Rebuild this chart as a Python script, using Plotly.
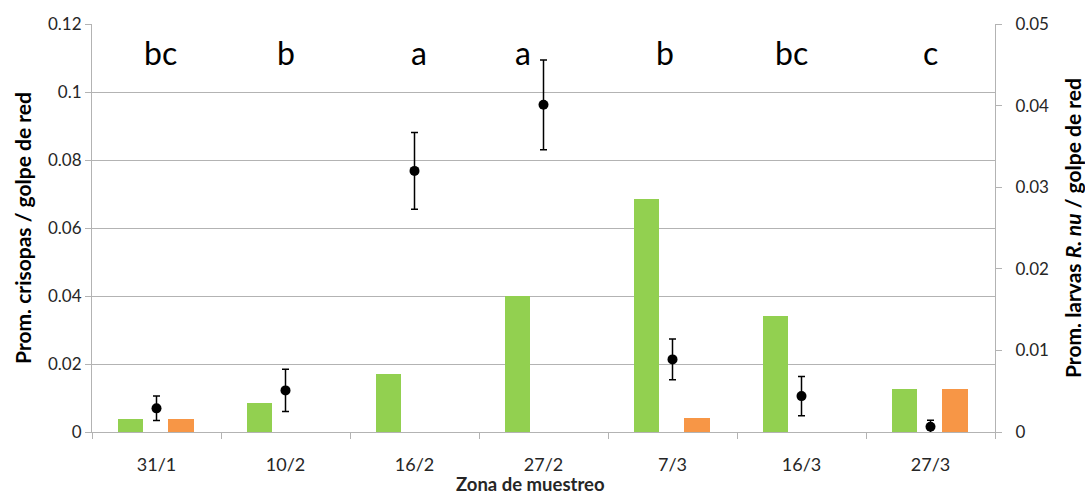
import plotly.graph_objects as go

fechas = ["31/1", "10/2", "16/2", "27/2", "7/3", "16/3", "27/3"]
crisopas_verde = [0.0039, 0.0084, 0.0171, 0.0399, 0.0685, 0.0341, 0.0126]
crisopas_naranja = [0.0039, 0, 0, 0, 0.0040, 0, 0.0126]
larvas_media = [0.0029, 0.0051, 0.0320, 0.0401, 0.0089, 0.0044, 0.00065]
larvas_error = [0.0015, 0.0026, 0.0047, 0.0055, 0.0025, 0.0024, 0.0008]
letras = ["bc", "b", "a", "a", "b", "bc", "c"]

# style / placement
letra_shift = [4, 0, 4, -21, -8, -10, 0]
FONT = "Lato"
GREEN = "#92D050"
ORANGE = "#F79646"
GRID = "#b3b3b3"
TXT = "#262626"

fig = go.Figure()
fig.add_trace(go.Bar(x=fechas, y=crisopas_verde, marker=dict(color=GREEN, line=dict(width=0)),
                     width=0.195, offset=-0.298, showlegend=False))
fig.add_trace(go.Bar(x=fechas, y=crisopas_naranja, marker=dict(color=ORANGE, line=dict(width=0)),
                     width=0.195, offset=0.092, showlegend=False))
fig.add_trace(go.Scatter(x=fechas, y=larvas_media, yaxis="y2", mode="markers",
                         marker=dict(color="black", size=10),
                         error_y=dict(type="data", array=larvas_error, color="black",
                                      thickness=1.5, width=3.5),
                         showlegend=False))

for f, l, s in zip(fechas, letras, letra_shift):
    fig.add_annotation(x=f, y=0.1115, xref="x", yref="y", text=l, showarrow=False,
                       xshift=s, font=dict(family=FONT, size=32, color="black"))

fig.add_annotation(x=(530 - 92) / (995 - 92), y=-(484 - 432) / (432 - 24),
                   xref="paper", yref="paper", text="<b>Zona de muestreo</b>",
                   xanchor="center", yanchor="middle",
                   showarrow=False, font=dict(family=FONT, size=18.5, color=TXT))

fig.update_layout(
    width=1085, height=494,
    margin=dict(l=92, r=90, t=24, b=62, autoexpand=False),
    paper_bgcolor="white", plot_bgcolor="white",
    barmode="overlay", bargap=0,
    font=dict(family=FONT, color=TXT),
    xaxis=dict(type="category", showline=True, linecolor=GRID, linewidth=1, automargin=False,
               ticks="outside", tickson="boundaries", ticklen=6, tickcolor=GRID,
               tickfont=dict(size=18, color=TXT), showgrid=False, ticklabelstandoff=16),
    yaxis=dict(range=[0, 0.12], dtick=0.02, showline=True, linecolor=GRID, linewidth=1,
               automargin=False,
               ticks="outside", ticklen=6, tickcolor=GRID, showgrid=True, gridcolor=GRID,
               gridwidth=1, zeroline=False, tickfont=dict(size=17, color=TXT),
               title=dict(text="<b>Prom. crisopas / golpe de red</b>", font=dict(size=21, color="black"),
                          standoff=10)),
    yaxis2=dict(range=[0, 0.05], dtick=0.01, overlaying="y", side="right", showline=True,
                automargin=False,
                linecolor=GRID, linewidth=1, ticks="outside", ticklen=6, tickcolor=GRID,
                showgrid=False, zeroline=False, tickfont=dict(size=17, color=TXT),
                ticklabelstandoff=10,
                title=dict(text="<b>Prom. larvas <i>R. nu</i> / golpe de red</b>",
                           font=dict(size=21, color="black"), standoff=18)),
)

fig.write_html("out.html")
